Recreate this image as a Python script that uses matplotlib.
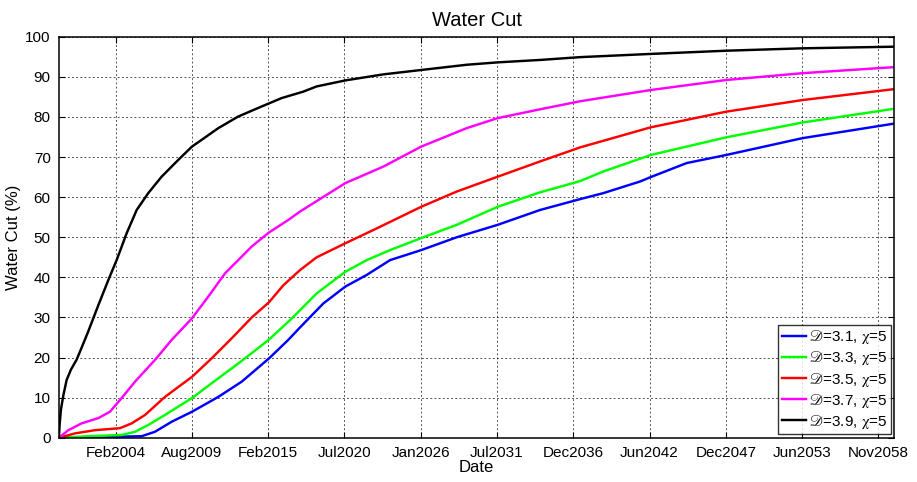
import matplotlib
matplotlib.use("Agg")
import matplotlib.pyplot as plt
import numpy as np

plt.rcParams['font.family'] = ['Liberation Sans', 'DejaVu Sans']
plt.rcParams['mathtext.fontset'] = 'stix'

# ---- data (x in decimal years) ----
x_black = [2000.07, 2000.11, 2000.21, 2000.38, 2000.62, 2000.93, 2001.34, 2001.70, 2002.17, 2002.89,
           2003.61, 2004.21, 2004.93, 2005.65, 2006.48, 2007.44, 2008.64, 2009.62, 2010.32, 2011.51,
           2012.94, 2014.62, 2016.06, 2017.61, 2018.57, 2020.63, 2023.35, 2026.08, 2029.34, 2031.57,
           2034.61, 2037.48, 2042.55, 2047.96, 2053.44, 2059.97]
y_black = [0.0, 3.0, 7.0, 10.5, 14.4, 17.0, 19.5, 22.5, 26.5, 33.0,
           39.3, 44.3, 51.0, 56.8, 61.0, 65.1, 69.3, 72.6, 74.3, 77.2,
           80.1, 82.6, 84.7, 86.3, 87.6, 89.1, 90.6, 91.7, 93.0, 93.6,
           94.2, 94.9, 95.7, 96.5, 97.1, 97.5]

x_mag = [2000.07, 2000.74, 2001.70, 2002.89, 2003.73, 2004.57, 2005.53, 2006.96, 2008.16, 2009.62,
         2010.79, 2011.99, 2012.94, 2013.91, 2015.15, 2016.53, 2017.37, 2020.63, 2023.35, 2026.08,
         2029.34, 2031.57, 2034.61, 2037.48, 2042.55, 2047.96, 2053.44, 2059.97]
y_mag = [0.0, 1.9, 3.6, 4.9, 6.5, 9.9, 14.0, 19.4, 24.4, 29.8,
         35.2, 41.0, 44.3, 47.7, 51.2, 54.3, 56.4, 63.5, 67.6, 72.6,
         77.2, 79.7, 81.9, 83.9, 86.7, 89.2, 90.9, 92.4]

x_red = [2000.07, 2001.22, 2002.65, 2004.45, 2005.29, 2006.25, 2007.68, 2009.62, 2011.03, 2012.47,
         2013.91, 2015.15, 2016.17, 2017.37, 2018.57, 2020.63, 2022.88, 2026.08, 2028.63, 2031.57,
         2034.61, 2037.48, 2042.55, 2047.96, 2053.44, 2059.97]
y_red = [0.0, 1.1, 1.9, 2.4, 3.6, 5.7, 10.2, 15.2, 19.8, 24.8,
         30.0, 33.8, 38.0, 41.8, 45.0, 48.5, 52.2, 57.6, 61.4, 65.1,
         68.9, 72.4, 77.4, 81.3, 84.2, 86.9]

x_green = [2000.07, 2002.17, 2004.57, 2005.53, 2006.48, 2007.68, 2009.62, 2011.03, 2012.47, 2013.91,
           2015.15, 2016.80, 2018.57, 2020.63, 2022.16, 2023.84, 2026.08, 2028.63, 2031.57, 2034.61,
           2037.48, 2039.15, 2042.55, 2047.96, 2053.44, 2059.97]
y_green = [0.0, 0.4, 0.7, 1.5, 3.2, 5.7, 9.9, 13.6, 17.3, 21.1,
           24.5, 29.8, 36.0, 41.4, 44.3, 46.8, 49.8, 53.1, 57.6, 61.2,
           64.0, 66.4, 70.5, 74.9, 78.6, 82.0]

x_blue = [2000.07, 2004.57, 2006.01, 2006.96, 2008.16, 2009.62, 2011.51, 2013.19, 2015.15, 2016.53,
          2017.37, 2019.05, 2020.63, 2022.16, 2023.84, 2026.08, 2028.63, 2031.57, 2034.61, 2037.48,
          2039.15, 2041.79, 2042.55, 2045.14, 2047.96, 2053.44, 2059.97]
y_blue = [0.0, 0.3, 0.4, 1.5, 4.0, 6.5, 10.2, 14.0, 19.8, 24.4,
          27.5, 33.5, 37.7, 40.6, 44.3, 46.8, 50.0, 53.1, 56.8, 59.5,
          61.0, 63.9, 65.0, 68.5, 70.5, 74.7, 78.3]

labels = [r'$\mathscr{D}$=3.1, $\mathrm{\chi}$=5', r'$\mathscr{D}$=3.3, $\mathrm{\chi}$=5',
          r'$\mathscr{D}$=3.5, $\mathrm{\chi}$=5', r'$\mathscr{D}$=3.7, $\mathrm{\chi}$=5',
          r'$\mathscr{D}$=3.9, $\mathrm{\chi}$=5']
tick_labels = ['Feb2004', 'Aug2009', 'Feb2015', 'Jul2020', 'Jan2026', 'Jul2031',
               'Dec2036', 'Jun2042', 'Dec2047', 'Jun2053', 'Nov2058']
first_tick = 2004.137
tick_step = 2000 / 365.25

# ---- plot ----
fig = plt.figure(figsize=(9.17, 4.82), dpi=100)
ax = fig.add_axes([0.0643, 0.0917, 0.911, 0.8322])

series = [(x_blue, y_blue, (0, 0, 1)), (x_green, y_green, (0, 1, 0)),
          (x_red, y_red, (1, 0, 0)), (x_mag, y_mag, (1, 0, 1)),
          (x_black, y_black, (0, 0, 0))]
for (xs, ys, c), lab in zip(series, labels):
    ax.plot(xs, ys, color=c, lw=1.75, label=lab)

ax.set_xlim(2000.07, 2060.04)
ax.set_ylim(0, 100)
ax.set_xticks([first_tick + i * tick_step for i in range(len(tick_labels))])
ax.set_xticklabels(tick_labels)
ax.set_yticks(np.arange(0, 101, 10))
ax.tick_params(direction='in', top=True, right=True, length=4, width=0.8,
               labelsize=11, pad=6, colors='black')
ax.grid(True, color='black', linestyle=(0, (2.2, 2.8)), lw=0.6, alpha=0.8)
for s in ax.spines.values():
    s.set_linewidth(1.1)

ax.set_title('Water Cut', fontsize=14.5, pad=8)
ax.set_xlabel('Date', fontsize=12, labelpad=0)
ax.set_ylabel('Water Cut (%)', fontsize=12, labelpad=3)

leg = ax.legend(loc='lower right', fontsize=11, frameon=True, fancybox=False,
                edgecolor='black', borderaxespad=0.22, handlelength=1.55,
                handletextpad=0.2, labelspacing=0.2, borderpad=0.25)
leg.get_frame().set_linewidth(1.0)

fig.savefig('out.png', dpi=100)
